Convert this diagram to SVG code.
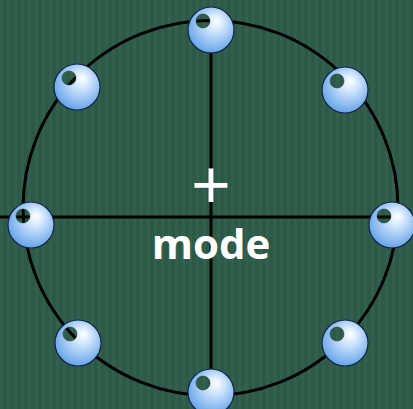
<svg xmlns="http://www.w3.org/2000/svg" width="413" height="409" viewBox="0 0 413 409">
<defs>
<pattern id="bg" patternUnits="userSpaceOnUse" width="7" height="10">
<rect width="7" height="10" fill="#2d5a47"/>
<rect x="0" width="3" height="10" fill="#33604e"/>
</pattern>
<radialGradient id="sph" cx="0.55" cy="0.42" r="0.62" fx="0.62" fy="0.3">
<stop offset="0" stop-color="#ffffff"/>
<stop offset="0.3" stop-color="#d2e7fd"/>
<stop offset="1" stop-color="#5f9fe8"/>
</radialGradient>
<mask id="hole" maskUnits="userSpaceOnUse" x="-30" y="-30" width="60" height="60">
<rect x="-30" y="-30" width="60" height="60" fill="#fff"/>
<circle cx="-8" cy="-9" r="7" fill="#000"/>
</mask>
<style>
.ln{fill:none;stroke:#000;stroke-width:3}
.sp{fill:url(#sph);stroke:#14254a;stroke-width:1.2}
.hr{fill:none;stroke:#0d2a20;stroke-width:0.8;opacity:0.6}
.lbl{fill:#fff;font-family:"Open Sans","DejaVu Sans",sans-serif}
</style>
<g id="sphere">
<circle class="sp" r="23" mask="url(#hole)"/>
<circle class="hr" cx="-8" cy="-9" r="7"/>
</g>
</defs>
<rect width="413" height="409" fill="url(#bg)"/>
<g id="connectors">
<ellipse class="ln" cx="210.5" cy="208" rx="187.5" ry="187.5"/>
<line class="ln" x1="211" y1="30" x2="211" y2="392"/>
<line class="ln" x1="0" y1="217" x2="413" y2="217"/>
</g>
<g id="label">
<text class="lbl" x="211" y="210" font-size="70" text-anchor="middle">+</text>
<text class="lbl" x="211" y="259" font-size="42" font-weight="bold" text-anchor="middle">mode</text>
</g>
<g id="n-top"><use href="#sphere" transform="translate(211,30)"/></g>
<g id="n-topright"><use href="#sphere" transform="translate(345,90)"/></g>
<g id="n-right"><use href="#sphere" transform="translate(392,225)"/></g>
<g id="n-bottomright"><use href="#sphere" transform="translate(345,343)"/></g>
<g id="n-bottom"><use href="#sphere" transform="translate(211,392)"/></g>
<g id="n-bottomleft"><use href="#sphere" transform="translate(78,343)"/></g>
<g id="n-left"><use href="#sphere" transform="translate(31,225)"/></g>
<g id="n-topleft"><use href="#sphere" transform="translate(77,87)"/></g>
</svg>
